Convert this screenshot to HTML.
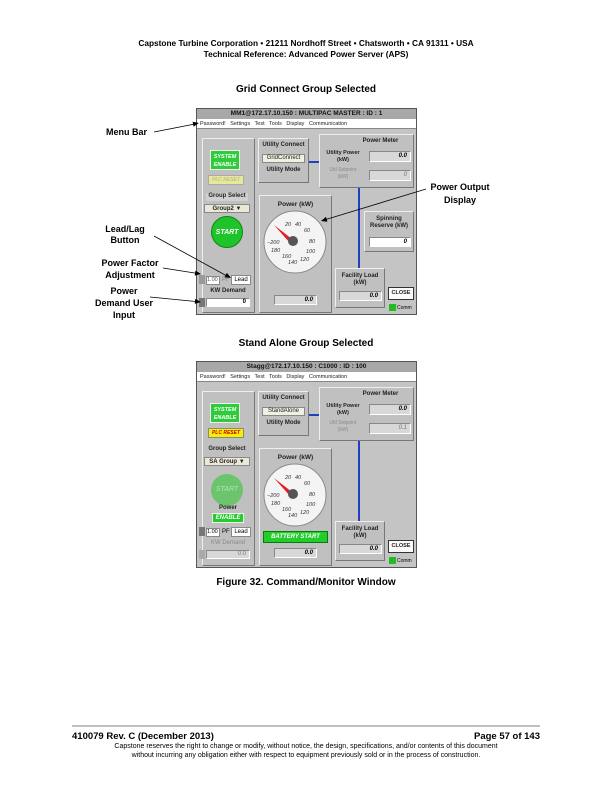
<!DOCTYPE html>
<html><head><meta charset="utf-8"><style>
*{margin:0;padding:0;box-sizing:border-box}
body{width:612px;height:792px;background:#fff;position:relative;font-family:"Liberation Sans",Arial,sans-serif;overflow:hidden}
.a{position:absolute}
.c{text-align:center;left:0;width:612px}
.b{font-weight:bold}
.win{position:absolute;width:221px;height:207px;background:#c4c4c4;border:1px solid #555;overflow:hidden}
.win .a{font-size:6px}
.tb{left:0;top:0;width:219px;height:10px;background:#a8a8a8;text-align:center;font-weight:bold;font-size:6.5px!important;line-height:10px;color:#111}
.mb{left:0;top:10px;width:219px;height:10px;background:#fff;font-size:5.5px!important;line-height:10px;padding-left:3px;color:#222;word-spacing:3px;border-bottom:1px solid #888}
.pn{background:#c0c0c0;border:1px solid #eee;border-right-color:#777;border-bottom-color:#777}
.fld{background:#d8d8d8;border:1px solid #888;border-right-color:#fff;border-bottom-color:#fff;text-align:right;font-style:italic;font-weight:bold;padding-right:3px}
.wf{background:#fff}
.lbl{font-weight:bold;text-align:center;color:#222}
</style></head><body>
<div class="a c b" style="top:38px;font-size:8.3px">Capstone Turbine Corporation • 21211 Nordhoff Street • Chatsworth • CA 91311 • USA</div>
<div class="a c b" style="top:49px;font-size:8.3px">Technical Reference: Advanced Power Server (APS)</div>
<div class="a c b" style="top:84px;font-size:10px">Grid Connect Group Selected</div>
<div class="a c b" style="top:338px;font-size:10px">Stand Alone Group Selected</div>
<div class="a c b" style="top:577px;font-size:10px">Figure 32. Command/Monitor Window</div>

<!-- annotations -->
<div class="a b" style="left:106px;top:127px;font-size:9px">Menu Bar</div>
<div class="a b" style="left:102px;top:224px;font-size:9px;text-align:center;width:46px;line-height:11px">Lead/Lag<br>Button</div>
<div class="a b" style="left:94px;top:257px;font-size:9px;text-align:center;width:72px;line-height:12px">Power Factor<br>Adjustment</div>
<div class="a b" style="left:93px;top:285px;font-size:9px;text-align:center;width:62px;line-height:12px">Power<br>Demand User<br>Input</div>
<div class="a b" style="left:420px;top:181px;font-size:9px;text-align:center;width:80px;line-height:13px">Power Output<br>Display</div>

<!-- window 1 -->
<div class="win" style="left:196px;top:108px">
<div class="a tb">MM1@172.17.10.150 : MULTIPAC MASTER : ID : 1</div>
<div class="a mb">Password! Settings Test Tools Display Communication</div>
<div class="a pn" style="left:5px;top:29px;width:53px;height:175px"></div>
<div class="a lbl" style="left:13px;top:41px;width:30px;height:20px;background:#2ecc3a;border:1px solid #eee;color:#fff;font-style:italic;font-size:5.5px;line-height:8px;padding-top:2px">SYSTEM<br>ENABLE</div>
<div class="a" style="left:11px;top:66px;width:36px;height:10px;background:#e8e89a;border:1px solid #aaa;color:#aa9;font-size:5px;text-align:center;line-height:9px;font-style:italic">PLC RESET</div>
<div class="a lbl" style="left:9px;top:84px;width:42px;height:8px;background:#d0d0d0">Group Select</div>
<div class="a lbl" style="left:7px;top:95px;width:46px;height:9px;background:#ece8d8;border:1px solid #888;line-height:8px">Group2 ▼</div>
<div class="a" style="left:14px;top:107px;width:32px;height:32px;border-radius:50%;background:#1fc42a;color:#fff;font-weight:bold;font-style:italic;font-size:7px!important;text-align:center;line-height:32px;border:1px solid #0a8a10">START</div>
<div class="a" style="left:2px;top:166px;width:6px;height:9px;background:#999"></div>
<div class="a wf" style="left:9px;top:167px;width:14px;height:9px;border:1px solid #888;font-size:5.5px;line-height:7px;color:#555">1.00</div>
<div class="a" style="left:25px;top:168px;color:#777">PF</div>
<div class="a wf" style="left:34px;top:166px;width:20px;height:10px;border:1px solid #888;font-size:6px;line-height:8px;text-align:center">Lead</div>
<div class="a lbl" style="left:8px;top:179px;width:46px">KW Demand</div>
<div class="a" style="left:2px;top:189px;width:6px;height:9px;background:#777"></div>
<div class="a wf fld" style="left:9px;top:189px;width:44px;height:9px;line-height:7px;font-style:normal">0</div>
<div class="a pn" style="left:61px;top:29px;width:51px;height:45px"></div>
<div class="a lbl" style="left:61px;top:33px;width:51px">Utility Connect</div>
<div class="a lbl" style="left:65px;top:45px;width:43px;height:9px;background:#f0f0e0;border:1px solid #888;font-weight:normal;line-height:7px">GridConnect</div>
<div class="a lbl" style="left:61px;top:58px;width:51px">Utility Mode</div>
<div class="a" style="left:112px;top:52px;width:10px;height:2px;background:#2040c0"></div>
<div class="a pn" style="left:122px;top:25px;width:95px;height:54px"></div>
<div class="a lbl" style="left:150px;top:29px;width:67px">Power Meter</div>
<div class="a lbl" style="left:124px;top:41px;width:44px;font-size:5.5px!important;line-height:7px">Utility Power<br>(kW)</div>
<div class="a fld" style="left:172px;top:42px;width:42px;height:11px;line-height:9px">0.0</div>
<div class="a lbl" style="left:124px;top:58px;width:44px;font-size:5px!important;line-height:7px;color:#888;font-weight:normal">Util Setpoint<br>(kW)</div>
<div class="a fld" style="left:172px;top:61px;width:42px;height:11px;line-height:9px;color:#777;font-weight:normal">0</div>
<div class="a" style="left:161px;top:79px;width:2px;height:80px;background:#2040c0"></div>
<div class="a pn" style="left:62px;top:86px;width:73px;height:118px"></div>
<div class="a lbl" style="left:62px;top:92px;width:73px;font-size:6.5px!important">Power (kW)</div>
<svg class="a" style="left:65px;top:100px" width="66" height="66" viewBox="0 0 66 66">
<circle cx="33" cy="33" r="31" fill="#f4f4f4" stroke="#888"/>
<g font-size="5.5" font-style="italic" fill="#333" font-family="Liberation Sans">
<text x="23" y="17">20</text><text x="33" y="17">40</text><text x="42" y="23">60</text><text x="47" y="34">80</text><text x="44" y="44">100</text><text x="38" y="52">120</text><text x="26" y="55">140</text><text x="20" y="49">160</text><text x="9" y="43">180</text><text x="5" y="35">−200</text></g>
<polygon points="12,16 30,30 28,34" fill="#e02020"/>
<circle cx="31" cy="32" r="5" fill="#555"/>
</svg>
<div class="a fld" style="left:77px;top:186px;width:43px;height:10px;line-height:8px">0.0</div>
<div class="a pn" style="left:167px;top:102px;width:50px;height:41px"></div>
<div class="a lbl" style="left:167px;top:107px;width:50px;line-height:7px">Spinning<br>Reserve (kW)</div>
<div class="a fld wf" style="left:172px;top:128px;width:42px;height:10px;line-height:8px">0</div>
<div class="a pn" style="left:138px;top:159px;width:50px;height:40px"></div>
<div class="a lbl" style="left:138px;top:164px;width:50px;line-height:7px">Facility Load<br>(kW)</div>
<div class="a fld" style="left:142px;top:182px;width:43px;height:10px;line-height:8px">0.0</div>
<div class="a lbl" style="left:191px;top:178px;width:26px;height:13px;background:#fafafa;border:1px solid #333;line-height:11px;font-size:5.5px!important">CLOSE</div>
<div class="a" style="left:192px;top:195px;width:7px;height:7px;background:#22bb22"></div>
<div class="a" style="left:200px;top:196px;font-size:5px!important">Comm</div>
</div>

<!-- window 2 -->
<div class="win" style="left:196px;top:361px">
<div class="a tb">Stagg@172.17.10.150 : C1000 : ID : 100</div>
<div class="a mb">Password! Settings Test Tools Display Communication</div>
<div class="a pn" style="left:5px;top:29px;width:53px;height:175px"></div>
<div class="a lbl" style="left:13px;top:41px;width:30px;height:20px;background:#2ecc3a;border:1px solid #eee;color:#fff;font-style:italic;font-size:5.5px;line-height:8px;padding-top:2px">SYSTEM<br>ENABLE</div>
<div class="a" style="left:11px;top:66px;width:36px;height:10px;background:#f4f000;border:1px solid #888;color:#c00;font-size:5px;text-align:center;line-height:9px;font-style:italic;font-weight:bold">PLC RESET</div>
<div class="a lbl" style="left:9px;top:84px;width:42px">Group Select</div>
<div class="a lbl" style="left:7px;top:95px;width:46px;height:9px;background:#ece8d8;border:1px solid #888;line-height:8px">SA Group ▼</div>
<div class="a" style="left:14px;top:112px;width:32px;height:32px;border-radius:50%;background:#6cc46c;color:#aee8ae;font-style:italic;font-size:7px!important;text-align:center;line-height:32px">START</div>
<div class="a lbl" style="left:8px;top:143px;width:46px">Power</div>
<div class="a lbl" style="left:15px;top:151px;width:32px;height:10px;background:#22cc2a;border:1px solid #eee;color:#fff;font-style:italic;line-height:8px">ENABLE</div>
<div class="a" style="left:2px;top:165px;width:6px;height:9px;background:#777"></div>
<div class="a wf" style="left:9px;top:166px;width:14px;height:9px;border:1px solid #888;font-size:5.5px;line-height:7px">1.00</div>
<div class="a" style="left:25px;top:167px">PF</div>
<div class="a wf" style="left:34px;top:165px;width:20px;height:10px;border:1px solid #888;line-height:8px;text-align:center">Lead</div>
<div class="a" style="left:8px;top:178px;width:46px;color:#888;text-align:center">KW Demand</div>
<div class="a" style="left:2px;top:188px;width:6px;height:9px;background:#aaa"></div>
<div class="a fld" style="left:9px;top:188px;width:44px;height:9px;line-height:7px;font-style:normal;font-weight:normal;color:#777">0.0</div>
<div class="a pn" style="left:61px;top:29px;width:51px;height:45px"></div>
<div class="a lbl" style="left:61px;top:33px;width:51px">Utility Connect</div>
<div class="a lbl" style="left:65px;top:45px;width:43px;height:9px;background:#f0f0e0;border:1px solid #888;font-weight:normal;line-height:7px">StandAlone</div>
<div class="a lbl" style="left:61px;top:58px;width:51px">Utility Mode</div>
<div class="a" style="left:112px;top:52px;width:10px;height:2px;background:#2040c0"></div>
<div class="a pn" style="left:122px;top:25px;width:95px;height:54px"></div>
<div class="a lbl" style="left:150px;top:29px;width:67px">Power Meter</div>
<div class="a lbl" style="left:124px;top:41px;width:44px;font-size:5.5px!important;line-height:7px">Utility Power<br>(kW)</div>
<div class="a fld" style="left:172px;top:42px;width:42px;height:11px;line-height:9px">0.0</div>
<div class="a lbl" style="left:124px;top:58px;width:44px;font-size:5px!important;line-height:7px;color:#888;font-weight:normal">Util Setpoint<br>(kW)</div>
<div class="a fld" style="left:172px;top:61px;width:42px;height:11px;line-height:9px;color:#777;font-weight:normal">0.1</div>
<div class="a" style="left:161px;top:79px;width:2px;height:80px;background:#2040c0"></div>
<div class="a pn" style="left:62px;top:86px;width:73px;height:118px"></div>
<div class="a lbl" style="left:62px;top:92px;width:73px;font-size:6.5px!important">Power (kW)</div>
<svg class="a" style="left:65px;top:100px" width="66" height="66" viewBox="0 0 66 66">
<circle cx="33" cy="33" r="31" fill="#f4f4f4" stroke="#888"/>
<g font-size="5.5" font-style="italic" fill="#333" font-family="Liberation Sans">
<text x="23" y="17">20</text><text x="33" y="17">40</text><text x="42" y="23">60</text><text x="47" y="34">80</text><text x="44" y="44">100</text><text x="38" y="52">120</text><text x="26" y="55">140</text><text x="20" y="49">160</text><text x="9" y="43">180</text><text x="5" y="35">−200</text></g>
<polygon points="12,16 30,30 28,34" fill="#e02020"/>
<circle cx="31" cy="32" r="5" fill="#555"/>
</svg>
<div class="a lbl" style="left:66px;top:169px;width:65px;height:12px;background:#22cc2a;border:1px solid #0a7a10;color:#fff;font-style:italic;line-height:10px">BATTERY START</div>
<div class="a fld" style="left:77px;top:186px;width:43px;height:10px;line-height:8px">0.0</div>
<div class="a pn" style="left:138px;top:159px;width:50px;height:40px"></div>
<div class="a lbl" style="left:138px;top:164px;width:50px;line-height:7px">Facility Load<br>(kW)</div>
<div class="a fld" style="left:142px;top:182px;width:43px;height:10px;line-height:8px">0.0</div>
<div class="a lbl" style="left:191px;top:178px;width:26px;height:13px;background:#fafafa;border:1px solid #333;line-height:11px;font-size:5.5px!important">CLOSE</div>
<div class="a" style="left:192px;top:195px;width:7px;height:7px;background:#22bb22"></div>
<div class="a" style="left:200px;top:196px;font-size:5px!important">Comm</div>
</div>

<svg class="a" style="left:0;top:0" width="612" height="792">
<g stroke="#000" stroke-width="0.8">
<line x1="154" y1="132" x2="195" y2="124"/>
<line x1="154" y1="236" x2="227" y2="276"/>
<line x1="163" y1="268" x2="197" y2="273.4"/>
<line x1="150" y1="297" x2="197" y2="301.6"/>
<line x1="426" y1="189" x2="325" y2="219.8"/>
</g>
<g fill="#000">
<polygon points="199,123 193.6,126.6 192.6,121.7"/>
<polygon points="231,278 224.5,277.3 226.9,272.9"/>
<polygon points="201,274 194.7,275.6 195.5,270.6"/>
<polygon points="201,302 194.8,303.9 195.2,298.9"/>
<polygon points="321,221 326,216.9 327.4,221.7"/>
</g>
<line x1="72" y1="726" x2="540" y2="726" stroke="#555" stroke-width="0.7"/>
</svg>

<div class="a b" style="left:72px;top:731px;font-size:9.5px">410079 Rev. C (December 2013)</div>
<div class="a b" style="right:72px;top:731px;font-size:9.5px">Page 57 of 143</div>
<div class="a c" style="top:743px;font-size:7px">Capstone reserves the right to change or modify, without notice, the design, specifications, and/or contents of this document</div>
<div class="a c" style="top:752px;font-size:7px">without incurring any obligation either with respect to equipment previously sold or in the process of construction.</div>
</body></html>
